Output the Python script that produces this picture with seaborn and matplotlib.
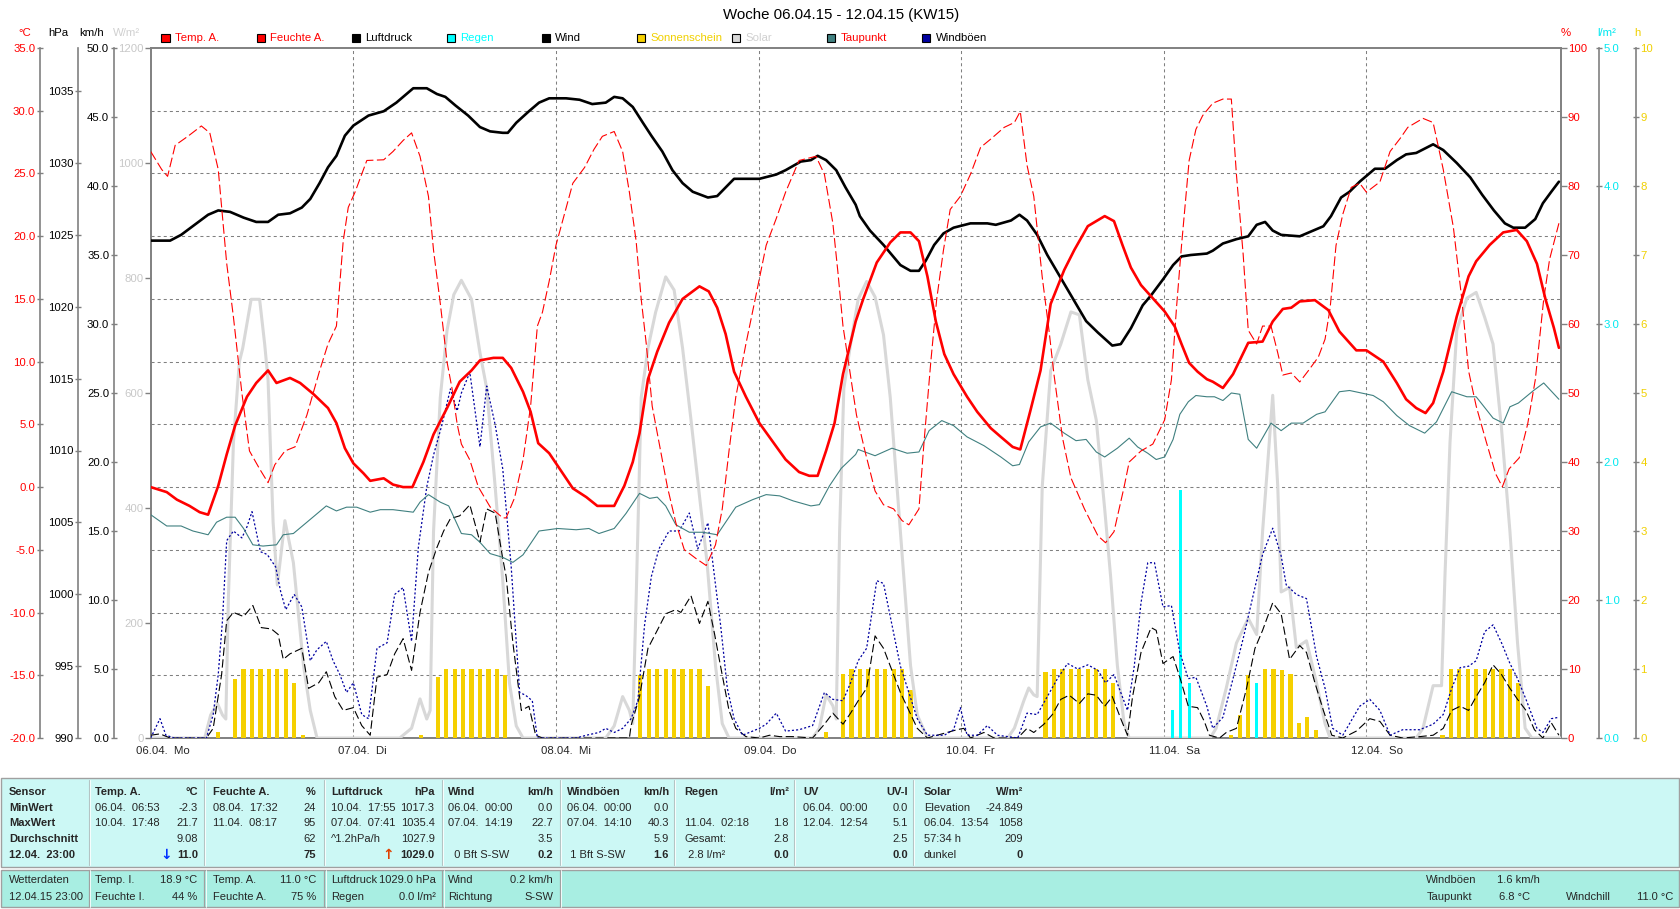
"""
Wochenübersicht Wetterstation KW15 (06.04.15 - 12.04.15)
Rebuild of the station chart with seaborn / matplotlib
"""

import matplotlib
matplotlib.use("Agg")
import matplotlib.pyplot as plt
import matplotlib.transforms as mtransforms
from matplotlib.patches import Rectangle
import seaborn as sns

# ---------------------------------------------------------------------------
# Data: (hours since 06.04. 00:00, value)
# ---------------------------------------------------------------------------
TEMP = [(0, 0.0), (1.9, -0.4), (3.1, -1.0), (4.6, -1.5), (5.8, -2.0), (6.8, -2.2), (8.0, 0.1), (9.0, 2.6),
        (10.0, 4.9), (11.4, 7.2), (12.5, 8.3), (13.9, 9.3), (14.9, 8.3), (16.5, 8.7), (17.7, 8.3), (19.3, 7.4),
        (21.0, 6.3), (22.0, 5.1), (23.0, 3.1), (24.0, 1.9), (25.2, 1.1), (26.0, 0.5), (27.6, 0.7), (28.7, 0.2),
        (29.9, 0.0), (31.0, 0.0), (32.3, 2.0), (33.5, 4.2), (35.1, 6.3), (36.6, 8.4), (38.0, 9.3), (39.0, 10.1),
        (40.6, 10.3), (41.7, 10.3), (42.7, 9.5), (44.1, 7.6), (45.0, 6.0), (45.9, 3.5), (47.2, 2.7), (48.4, 1.5),
        (50.0, -0.1), (51.6, -0.8), (52.9, -1.5), (54.9, -1.5), (56.1, 0.1), (57.1, 2.0), (57.9, 4.3), (58.9, 8.6),
        (60.0, 10.8), (61.4, 13.1), (63.0, 15.0), (65.0, 16.0), (66.1, 15.6), (67.1, 14.3), (68.1, 12.2),
        (69.1, 9.2), (70.5, 7.2), (72.1, 5.1), (73.7, 3.6), (75.2, 2.2), (76.8, 1.2), (78.0, 0.9), (79.0, 0.9),
        (80.0, 2.9), (81.0, 5.1), (82.0, 9.0), (83.5, 13.2), (84.4, 15.0), (86.0, 17.9), (87.6, 19.5),
        (88.8, 20.3), (90.0, 20.3), (91.0, 19.6), (92.0, 16.8), (93.0, 13.2), (94.0, 10.6), (95.1, 9.0),
        (96.7, 7.2), (97.9, 6.0), (99.5, 4.7), (100.7, 4.0), (102.1, 3.2), (103.0, 3.0), (104.2, 6.1),
        (105.4, 9.3), (106.6, 14.6), (108.2, 17.3), (109.4, 18.9), (111.0, 20.8), (113.0, 21.6), (114.1, 21.2),
        (115.1, 19.3), (116.1, 17.5), (117.3, 16.1), (118.5, 15.2), (120.1, 14.0), (121.3, 12.8), (122.1, 11.4),
        (123.0, 9.9), (124.0, 9.2), (125.1, 8.6), (125.8, 8.4), (127.0, 7.9), (128.2, 9.0), (130.0, 11.5),
        (131.7, 11.6), (132.9, 13.2), (134.1, 14.2), (135.1, 14.3), (136.1, 14.8), (137.9, 14.9), (139.5, 14.1),
        (140.8, 12.4), (142.8, 10.9), (144.0, 10.9), (146.0, 10.0), (147.6, 8.3), (148.7, 7.0), (149.9, 6.3),
        (151.0, 5.9), (151.9, 6.7), (153.1, 9.2), (154.7, 13.6), (156.1, 16.8), (157.0, 18.0), (158.6, 19.3),
        (160.2, 20.3), (161.8, 20.5), (163.0, 19.6), (164.2, 17.8), (165.2, 15.0), (166.2, 12.7), (166.8, 11.1)]

HUMIDITY = [(0, 85.0), (1.3, 82.4), (2.0, 81.4), (2.9, 85.9), (4.4, 87.2), (6.0, 88.7), (7.0, 87.7), (8.0, 82.4),
            (9.0, 68.8), (9.8, 61.0), (10.8, 50.0), (11.7, 41.6), (12.9, 39.0), (13.9, 37.0), (14.7, 39.6),
            (15.9, 41.6), (17.1, 42.2), (18.5, 46.8), (20.0, 53.2), (21.0, 57.1), (22.0, 59.7), (22.8, 72.0),
            (23.4, 76.9), (24.2, 79.1), (25.6, 83.7), (27.6, 83.8), (28.7, 85.0), (29.9, 86.6), (30.9, 87.7),
            (31.9, 84.3), (32.9, 78.5), (33.5, 70.7), (34.3, 63.0), (35.1, 54.5), (35.7, 50.6), (36.3, 45.5),
            (36.8, 42.6), (37.8, 40.3), (38.8, 36.4), (40.2, 33.5), (41.7, 31.9), (42.1, 31.9), (43.1, 34.8),
            (44.1, 40.3), (45.0, 48.1), (45.8, 59.7), (46.4, 61.7), (47.2, 66.2), (48.0, 71.4), (49.0, 75.9),
            (50.0, 80.4), (51.4, 82.7), (52.5, 85.3), (53.5, 87.2), (54.9, 87.9), (55.9, 85.0), (56.7, 79.1),
            (57.5, 72.0), (58.1, 63.6), (58.7, 57.1), (59.4, 48.1), (60.4, 41.6), (61.2, 36.4), (62.2, 31.2),
            (63.2, 27.3), (64.6, 26.0), (65.8, 25.0), (66.9, 28.0), (67.7, 33.2), (68.5, 41.6), (69.3, 49.4),
            (70.5, 57.1), (71.7, 64.2), (72.9, 71.4), (74.1, 75.3), (75.2, 79.1), (76.8, 83.7), (78.8, 84.3),
            (79.8, 81.7), (80.8, 74.6), (81.4, 67.5), (82.0, 59.7), (82.8, 53.2), (83.6, 46.8), (84.6, 41.6),
            (85.8, 35.8), (86.8, 33.8), (88.0, 33.2), (89.0, 31.5), (89.8, 30.9), (91.0, 33.2), (91.6, 42.9),
            (92.4, 54.5), (93.1, 63.6), (93.9, 70.7), (94.7, 76.6), (95.9, 78.5), (97.1, 81.7), (98.3, 85.6),
            (99.5, 86.8), (101.1, 88.5), (102.3, 89.2), (103.0, 90.8), (103.8, 83.0), (104.6, 78.5),
            (105.6, 66.8), (106.4, 59.1), (107.0, 52.6), (108.0, 43.5), (109.0, 37.7), (110.6, 33.2),
            (112.2, 29.3), (113.1, 28.3), (114.1, 29.9), (115.3, 36.4), (115.9, 40.0), (117.3, 41.6),
            (118.7, 42.6), (120.1, 46.1), (120.9, 51.9), (121.5, 62.3), (122.1, 71.4), (123.0, 83.7),
            (123.8, 88.2), (124.6, 90.2), (125.8, 92.0), (127.0, 92.6), (128.0, 92.6), (128.6, 81.7),
            (129.4, 70.1), (130.0, 59.1), (131.0, 57.1), (131.7, 59.7), (132.7, 59.7), (133.5, 55.8),
            (134.1, 52.6), (135.1, 52.9), (136.1, 51.6), (137.1, 53.2), (138.3, 55.2), (139.1, 57.8),
            (139.7, 62.3), (140.4, 71.4), (141.2, 75.9), (142.2, 79.8), (143.2, 80.4), (144.0, 79.1),
            (145.6, 80.6), (146.8, 85.0), (148.0, 86.9), (148.9, 88.5), (150.7, 89.8), (151.9, 89.2),
            (153.1, 82.4), (154.3, 74.0), (155.3, 63.6), (156.1, 53.2), (157.0, 48.1), (158.2, 42.9),
            (159.3, 38.3), (160.1, 36.4), (160.9, 39.0), (162.1, 40.6), (163.1, 45.5), (164.0, 51.9),
            (165.0, 63.6), (165.7, 69.4), (166.8, 74.6)]

PRESSURE = [(0, 1024.6), (2.3, 1024.6), (3.6, 1025.0), (5.2, 1025.7), (6.8, 1026.4), (8.0, 1026.7),
            (9.4, 1026.6), (11.0, 1026.2), (12.5, 1025.9), (13.9, 1025.9), (15.1, 1026.4), (16.5, 1026.5),
            (17.9, 1026.9), (18.9, 1027.5), (20.0, 1028.6), (21.0, 1029.7), (22.0, 1030.5), (23.0, 1031.9),
            (24.0, 1032.6), (25.8, 1033.3), (27.6, 1033.6), (29.1, 1034.2), (30.1, 1034.7), (31.1, 1035.2),
            (32.7, 1035.2), (33.9, 1034.8), (34.9, 1034.6), (36.1, 1034.0), (37.6, 1033.3), (39.0, 1032.5),
            (40.2, 1032.2), (41.7, 1032.1), (42.3, 1032.1), (43.3, 1032.8), (44.8, 1033.6), (46.0, 1034.2),
            (47.2, 1034.5), (49.2, 1034.5), (50.8, 1034.4), (52.3, 1034.1), (53.9, 1034.2), (54.9, 1034.6),
            (55.9, 1034.5), (57.1, 1033.9), (58.3, 1032.8), (59.3, 1031.9), (60.6, 1030.8), (61.8, 1029.5),
            (63.0, 1028.6), (64.2, 1028.0), (66.0, 1027.6), (67.1, 1027.7), (68.1, 1028.3), (69.1, 1028.9),
            (70.5, 1028.9), (72.1, 1028.9), (74.1, 1029.2), (75.2, 1029.5), (77.0, 1030.1), (78.2, 1030.2),
            (79.0, 1030.5), (80.0, 1030.2), (81.2, 1029.5), (82.3, 1028.3), (83.5, 1027.1), (84.0, 1026.3),
            (85.2, 1025.3), (86.8, 1024.3), (87.8, 1023.6), (88.8, 1022.9), (90.0, 1022.5), (91.0, 1022.5),
            (91.8, 1023.2), (92.8, 1024.3), (93.9, 1025.1), (95.1, 1025.5), (97.1, 1025.8), (99.1, 1025.8),
            (100.1, 1025.7), (101.9, 1026.0), (102.9, 1026.4), (103.8, 1026.0), (105.0, 1025.0),
            (106.2, 1023.6), (107.6, 1022.2), (109.0, 1020.8), (110.8, 1019.0), (112.2, 1018.2),
            (113.9, 1017.3), (114.9, 1017.4), (116.1, 1018.5), (117.5, 1020.1), (118.5, 1020.8),
            (119.9, 1021.9), (121.1, 1022.9), (122.1, 1023.5), (123.2, 1023.6), (125.1, 1023.7),
            (125.8, 1023.9), (127.0, 1024.4), (128.6, 1024.7), (130.0, 1024.9), (131.0, 1025.7),
            (132.0, 1025.9), (132.9, 1025.3), (133.9, 1025.0), (136.1, 1024.9), (137.3, 1025.2),
            (138.9, 1025.6), (139.8, 1026.3), (141.0, 1027.6), (142.0, 1028.0), (143.2, 1028.7),
            (144.0, 1029.1), (145.0, 1029.6), (146.2, 1029.6), (147.6, 1030.2), (148.7, 1030.6),
            (149.9, 1030.7), (150.9, 1031.0), (151.9, 1031.3), (153.1, 1030.9), (154.7, 1030.0),
            (156.3, 1029.0), (157.7, 1027.8), (159.1, 1026.7), (160.4, 1025.8), (161.4, 1025.5),
            (162.8, 1025.5), (164.0, 1026.1), (164.9, 1027.2), (165.9, 1028.0), (166.8, 1028.7)]

DEWPOINT = [(0, -2.2), (1.9, -3.1), (3.6, -3.1), (5.0, -3.5), (6.8, -3.8), (7.8, -2.8), (9.0, -2.4),
            (10.0, -2.4), (11.0, -3.3), (12.1, -4.6), (13.3, -4.7), (14.9, -4.6), (15.7, -3.8), (16.9, -3.7),
            (18.5, -2.8), (20.8, -1.5), (22.0, -1.9), (23.2, -1.6), (24.4, -1.6), (26.0, -2.0), (27.2, -1.8),
            (28.7, -1.8), (31.1, -2.0), (31.9, -1.2), (32.9, -0.6), (34.3, -1.2), (35.3, -1.5), (36.8, -3.7),
            (38.0, -3.8), (39.0, -4.4), (40.2, -5.3), (41.7, -5.6), (42.9, -6.0), (44.1, -5.4), (46.0, -3.5),
            (48.2, -3.3), (50.4, -3.4), (51.9, -3.3), (53.1, -3.7), (54.9, -3.3), (56.3, -2.1), (57.9, -0.5),
            (59.1, -0.9), (60.0, -0.8), (61.0, -1.5), (62.2, -3.0), (63.8, -3.6), (65.4, -3.6), (67.1, -3.8),
            (68.1, -2.8), (69.3, -1.6), (71.3, -1.0), (72.9, -0.6), (74.5, -0.7), (76.1, -1.1), (78.2, -1.5),
            (79.2, -1.4), (80.4, 0.1), (81.8, 1.5), (83.5, 2.6), (83.8, 3.0), (85.8, 2.5), (87.8, 3.1),
            (89.6, 2.7), (91.0, 2.8), (92.2, 4.5), (93.7, 5.3), (95.1, 4.9), (96.7, 4.0), (98.7, 3.3),
            (100.7, 2.4), (102.1, 1.7), (102.9, 1.8), (104.0, 3.6), (105.4, 4.8), (106.6, 5.1), (108.2, 4.3),
            (109.6, 3.7), (110.8, 3.8), (112.0, 2.8), (113.0, 2.4), (114.5, 3.1), (115.9, 3.9), (116.9, 3.2),
            (118.1, 2.7), (119.1, 2.2), (120.1, 2.4), (121.1, 3.8), (121.9, 5.8), (122.9, 6.8), (123.8, 7.3),
            (125.1, 7.2), (126.0, 7.2), (127.0, 6.9), (128.0, 7.5), (129.0, 7.4), (130.0, 3.8), (131.0, 3.1),
            (132.7, 5.1), (133.9, 4.5), (135.1, 5.1), (136.5, 5.1), (138.1, 5.8), (139.1, 6.0), (140.8, 7.6),
            (142.0, 7.7), (144.8, 7.3), (146.0, 6.8), (147.6, 5.7), (149.1, 4.9), (150.9, 4.3), (152.3, 5.2),
            (154.1, 7.6), (155.9, 7.2), (157.0, 7.2), (159.0, 5.5), (160.2, 5.1), (161.0, 6.4), (162.0, 6.7),
            (163.8, 7.7), (165.0, 8.3), (166.8, 7.0)]

SOLAR = [(0, 0), (6.4, 0), (7.1, 40), (7.9, 60), (8.5, 40), (8.9, 33), (9.2, 242), (9.8, 514), (10.5, 654),
         (10.9, 678), (11.9, 763), (12.9, 763), (13.5, 685), (13.9, 623), (14.5, 375), (15.0, 266), (15.9, 378),
         (16.9, 305), (18.1, 126), (18.9, 48), (19.7, 0),
         (29.5, 0), (30.9, 17), (31.9, 68), (32.7, 33), (33.1, 48), (33.5, 359), (34.3, 592), (35.1, 709),
         (35.9, 771), (36.8, 796), (38.0, 763), (39.0, 670), (39.8, 608), (40.8, 437), (41.7, 274), (42.5, 95),
         (43.3, 21), (44.1, 0),
         (53.9, 0), (54.9, 21), (55.9, 72), (56.7, 48), (57.1, 25), (57.5, 242), (58.1, 592), (58.9, 678),
         (59.8, 740), (61.0, 802), (62.0, 779), (63.0, 678), (64.0, 553), (65.0, 421), (65.9, 305), (66.9, 126),
         (67.7, 25), (68.5, 0),
         (78.4, 0), (79.2, 17), (80.0, 75), (80.8, 56), (81.2, 33), (81.6, 359), (82.1, 608), (82.9, 685),
         (83.8, 763), (84.8, 794), (85.8, 767), (86.8, 701), (87.6, 592), (88.4, 437), (89.2, 281), (90.0, 126),
         (90.8, 40), (92.0, 0),
         (101.5, 0), (102.3, 17), (103.4, 64), (104.0, 87), (104.6, 75), (105.0, 72), (105.6, 437), (106.6, 639),
         (107.8, 685), (109.0, 741), (110.0, 736), (111.0, 623), (112.0, 553), (113.0, 398), (113.7, 281),
         (114.5, 126), (115.3, 25), (115.9, 0),
         (125.5, 0), (126.2, 17), (127.4, 87), (128.6, 165), (130.0, 208), (131.0, 180), (131.7, 359),
         (132.3, 476), (132.9, 596), (133.5, 437), (133.9, 254), (134.9, 262), (135.7, 157), (136.9, 169),
         (138.1, 95), (139.1, 25), (139.7, 0),
         (149.9, 0), (150.7, 17), (151.9, 91), (152.9, 91), (153.3, 281), (153.9, 514), (154.7, 709),
         (155.9, 765), (157.0, 775), (158.0, 732), (159.0, 685), (160.0, 538), (161.0, 359), (161.9, 165),
         (162.8, 17), (163.6, 0), (167.0, 0)]

WIND = [(0, 0.2), (1.1, 0.3), (2.3, 0), (6.6, 0), (7.4, 0.7), (8.4, 4.6), (9.0, 8.5), (9.8, 9.1), (11.0, 8.8),
        (12.1, 9.6), (13.1, 8.0), (14.3, 7.9), (15.1, 7.5), (15.7, 5.7), (16.5, 6.1), (17.9, 6.5), (18.7, 3.6),
        (19.9, 4.0), (20.8, 4.8), (21.8, 3.0), (22.8, 2.0), (24.0, 2.2), (25.0, 0.9), (26.0, 0.2), (26.8, 4.4),
        (28.0, 4.6), (28.9, 6.1), (29.9, 7.2), (30.9, 4.9), (31.9, 9.1), (32.9, 12.0), (33.9, 13.8),
        (34.7, 15.0), (35.5, 15.9), (36.6, 16.1), (37.8, 16.9), (39.0, 14.2), (39.8, 16.6), (40.8, 16.3),
        (41.7, 13.0), (42.1, 11.7), (42.9, 6.9), (43.9, 2.0), (44.8, 2.3), (45.6, 0.2), (46.4, 0), (56.7, 0),
        (56.9, 0.9), (57.9, 3.0), (58.9, 6.5), (60.0, 7.8), (61.0, 9.0), (62.2, 9.3), (62.8, 9.1), (64.0, 10.3),
        (65.0, 8.3), (66.0, 9.9), (66.8, 7.5), (67.5, 5.2), (68.5, 2.0), (69.3, 0.7), (70.5, 0.1), (72.1, 0),
        (73.3, 0.2), (74.5, 0.1), (76.0, 0.1), (78.4, 0), (79.8, 1.0), (80.8, 1.8), (82.0, 1.0), (82.9, 1.8),
        (83.8, 2.7), (84.8, 3.6), (85.8, 7.4), (86.8, 6.5), (87.8, 4.9), (88.8, 3.3), (89.8, 2.0), (90.8, 0.7),
        (92.0, 0), (95.5, 0.6), (96.3, 0.7), (97.1, 0), (98.7, 0.4), (99.9, 0), (102.7, 0), (103.8, 0.7),
        (104.6, 0.4), (105.8, 1.0), (106.8, 1.7), (107.8, 2.8), (108.8, 3.1), (110.0, 2.5), (111.0, 3.2),
        (112.0, 3.1), (113.0, 2.3), (113.9, 3.0), (114.9, 1.4), (115.7, 0.2), (116.3, 3.0), (117.3, 6.2),
        (118.5, 8.0), (119.1, 7.8), (119.9, 5.4), (121.1, 5.9), (121.9, 4.4), (122.9, 2.3), (124.0, 2.2),
        (124.8, 1.2), (125.4, 0.2), (126.6, 0), (127.4, 0.4), (128.6, 0.7), (129.8, 3.6), (130.8, 6.5),
        (131.7, 7.8), (132.9, 9.8), (133.9, 9.0), (134.9, 5.7), (136.1, 6.7), (136.9, 6.2), (137.9, 4.0),
        (138.9, 2.0), (139.9, 0.2), (141.2, 0), (142.8, 0.5), (144.4, 1.4), (145.6, 1.2), (146.8, 0.2),
        (148.3, 0), (150.3, 0.1), (151.9, 0.2), (153.1, 0.7), (154.1, 2.0), (155.1, 2.3), (156.1, 2.0),
        (157.0, 3.0), (158.0, 4.0), (159.0, 5.3), (160.0, 4.6), (161.0, 3.6), (161.9, 2.8), (162.9, 2.0),
        (163.9, 0.6), (164.9, 0), (165.9, 1.1), (166.8, 0.2)]

GUSTS = [(0, 0), (1.1, 1.4), (1.8, 0.2), (2.8, 0), (6.6, 0), (7.4, 1.7), (8.0, 4.6), (8.5, 8.5), (9.0, 14.3),
         (9.8, 15.0), (10.8, 14.5), (11.4, 15.3), (12.0, 16.4), (13.0, 13.5), (13.8, 13.3), (14.8, 12.4),
         (15.4, 10.6), (16.0, 9.3), (17.0, 10.4), (17.9, 9.5), (18.9, 5.6), (19.7, 6.4), (20.8, 7.0),
         (21.6, 5.6), (22.4, 4.6), (23.2, 3.3), (24.0, 4.0), (25.0, 1.7), (25.8, 1.4), (26.8, 6.5), (28.0, 6.9),
         (28.9, 10.4), (29.9, 10.9), (30.9, 7.0), (31.7, 13.8), (32.7, 18.2), (33.5, 20.5), (34.5, 22.7),
         (35.5, 25.3), (36.3, 23.7), (36.8, 25.0), (37.8, 26.5), (39.0, 21.1), (39.8, 25.5), (40.8, 22.7),
         (41.7, 19.5), (42.7, 12.4), (43.7, 3.3), (44.4, 3.1), (45.2, 2.7), (45.8, 0), (50.4, 0), (51.6, 0.2),
         (53.1, 0.4), (53.9, 0.7), (54.9, 0.4), (55.9, 0.7), (56.9, 1.4), (57.7, 2.7), (58.5, 8.2), (59.3, 11.7),
         (60.2, 13.7), (61.4, 15.0), (62.6, 15.0), (63.8, 16.3), (64.8, 13.7), (66.0, 15.6), (66.9, 11.1),
         (67.5, 8.2), (68.3, 3.6), (69.1, 1.4), (70.1, 0.2), (72.1, 0.7), (72.9, 1.0), (74.1, 1.8), (75.2, 0.5),
         (76.8, 0.6), (78.4, 0.9), (79.8, 3.3), (80.8, 2.8), (82.0, 2.7), (82.9, 4.0), (83.8, 5.6), (84.8, 6.5),
         (86.0, 11.4), (86.8, 11.2), (87.8, 8.2), (88.8, 5.2), (89.8, 3.3), (90.8, 1.4), (92.0, 0.2),
         (94.0, 0.2), (95.1, 0.6), (95.9, 2.2), (96.7, 0.2), (97.9, 0.2), (99.1, 0.9), (100.3, 0.2),
         (102.7, 0), (103.8, 1.8), (105.0, 1.7), (106.2, 3.0), (107.4, 4.3), (108.6, 5.4), (109.8, 5.0),
         (111.0, 5.3), (112.2, 4.9), (113.1, 4.0), (114.1, 4.6), (114.9, 3.3), (115.7, 2.0), (116.5, 5.2),
         (117.3, 9.8), (118.1, 12.7), (118.9, 12.7), (119.9, 9.5), (120.9, 9.6), (121.9, 6.2), (122.9, 4.3),
         (123.8, 4.4), (125.1, 2.3), (125.8, 0.7), (127.0, 1.5), (128.2, 4.3), (129.4, 7.2), (130.6, 10.4),
         (131.7, 13.3), (132.9, 15.2), (133.9, 13.2), (134.5, 11.1), (135.7, 10.4), (136.9, 10.1),
         (138.1, 5.9), (139.1, 3.6), (140.0, 0.7), (141.2, 0.2), (143.2, 2.3), (144.4, 2.8), (145.6, 2.0),
         (146.8, 0.2), (148.3, 0.6), (150.3, 0.6), (151.9, 1.0), (153.1, 1.7), (154.1, 3.6), (155.1, 5.1),
         (156.1, 5.2), (157.0, 5.6), (158.0, 7.7), (159.0, 8.2), (160.0, 6.9), (161.0, 5.4), (161.9, 4.3),
         (162.9, 2.8), (164.2, 0.7), (164.9, 0.4), (165.9, 1.4), (166.8, 1.5)]

# sunshine per hour (h) and rain per hour (l/m²)
SUN_HOURS = [8, 10, 11, 12, 13, 14, 15, 16, 17, 18,
             32, 34, 35, 36, 37, 38, 39, 40, 41, 42,
             58, 59, 60, 61, 62, 63, 64, 65, 66,
             80, 82, 83, 84, 85, 86, 87, 88, 89, 90,
             106, 107, 108, 109, 110, 111, 112, 113, 114,
             128, 129, 130, 132, 133, 134, 135, 136, 137, 138,
             153, 154, 155, 156, 157, 158, 159, 160, 161, 162]
SUN_VALUES = [0.09, 0.85, 1, 1, 1, 1, 1, 1, 0.79, 0.05,
              0.05, 0.89, 1, 1, 1, 1, 1, 1, 1, 0.92,
              0.92, 1, 1, 1, 1, 1, 1, 1, 0.76,
              0.09, 0.93, 1, 1, 1, 1, 1, 1, 1, 0.69,
              0.95, 1, 1, 1, 1, 1, 1, 1, 0.79,
              0.05, 0.34, 0.92, 1, 1, 0.98, 0.93, 0.22, 0.30, 0.11,
              0.05, 1, 1, 1, 1, 1, 1, 1, 1, 0.79]
RAIN_HOURS = [121, 122, 123, 131]
RAIN_VALUES = [0.2, 1.8, 0.4, 0.4]

DAY_LABELS = ["06.04.  Mo", "07.04.  Di", "08.04.  Mi", "09.04.  Do", "10.04.  Fr", "11.04.  Sa", "12.04.  So"]
TITLE = "Woche 06.04.15 - 12.04.15 (KW15)"

LEGEND = [("Temp. A.", "#FF0000", "#FF0000"), ("Feuchte A.", "#FF0000", "#FF0000"),
          ("Luftdruck", "#000000", "#000000"), ("Regen", "#00FFFF", "#00FFFF"),
          ("Wind", "#000000", "#000000"), ("Sonnenschein", "#F5D000", "#F0D000"),
          ("Solar", "#D8D8D8", "#D0D0D0"), ("Taupunkt", "#408080", "#FF0000"),
          ("Windböen", "#0000A0", "#000000")]

# statistics table: (left, right, header, unit, rows)
STAT_COLS = [
    (94.6, 198, "Temp. A.", "°C", [("06.04.  06:53", "-2.3"), ("10.04.  17:48", "21.7"), ("", "9.08"), ("", "11.0")]),
    (213, 316, "Feuchte A.", "%", [("08.04.  17:32", "24"), ("11.04.  08:17", "95"), ("", "62"), ("", "75")]),
    (331, 434.5, "Luftdruck", "hPa", [("10.04.  17:55", "1017.3"), ("07.04.  07:41", "1035.4"),
                                      ("^1.2hPa/h", "1027.9"), ("", "1029.0")]),
    (448, 553, "Wind", "km/h", [("06.04.  00:00", "0.0"), ("07.04.  14:19", "22.7"), ("", "3.5"),
                               ("  0 Bft S-SW", "0.2")]),
    (567, 669, "Windböen", "km/h", [("06.04.  00:00", "0.0"), ("07.04.  14:10", "40.3"), ("", "5.9"),
                                   (" 1 Bft S-SW", "1.6")]),
    (684.6, 789, "Regen", "l/m²", [("", ""), ("11.04.  02:18", "1.8"), ("Gesamt:", "2.8"), (" 2.8 l/m²", "0.0")]),
    (803, 908, "UV", "UV-I", [("06.04.  00:00", "0.0"), ("12.04.  12:54", "5.1"), ("", "2.5"), ("", "0.0")]),
    (924, 1023, "Solar", "W/m²", [("Elevation", "-24.849"), ("06.04.  13:54", "1058"), ("57:34 h", "209"),
                                  ("dunkel", "0")]),
]
ROW_NAMES = ["Sensor", "MinWert", "MaxWert", "Durchschnitt", "12.04.  23:00"]

CURRENT_COLS = [
    (9, None, "Wetterdaten", "12.04.15 23:00", "", ""),
    (94.6, 197.5, "Temp. I.", "Feuchte I.", "18.9 °C", "44 %"),
    (213, 316, "Temp. A.", "Feuchte A.", "11.0 °C", "75 %"),
    (331, 435.5, "Luftdruck", "Regen", "1029.0 hPa", "0.0 l/m²"),
    (448, 553, "Wind", "Richtung", "0.2 km/h", "S-SW"),
]

# ---------------------------------------------------------------------------
# Layout (pixel geometry of the 1680 x 909 picture)
# ---------------------------------------------------------------------------
W, H = 1680, 909
PL, PR, PT, PB = 150.7, 1560.6, 48.0, 738.0
HOURS = 167.0
GRID = "#808080"

sns.set_theme(style="white")
plt.rcParams["font.family"] = ["Liberation Sans", "DejaVu Sans"]
plt.rcParams["lines.scale_dashes"] = False


def frect(x0, x1, y0, y1):
    return [x0 / W, 1 - y1 / H, (x1 - x0) / W, (y1 - y0) / H]


fig = plt.figure(figsize=(W / 100, H / 100), dpi=100)
fig.patch.set_facecolor("white")

# overlay for pixel placed texts and the table
ov = fig.add_axes([0, 0, 1, 1])
ov.set_xlim(0, W)
ov.set_ylim(H, 0)
ov.axis("off")

plot_rect = frect(PL, PR, PT, PB)

# base axes: frame and grid
ax = fig.add_axes(plot_rect)
ax.set_xlim(0, HOURS)
ax.set_ylim(-20, 35)
ax.set_xticks([])
ax.set_yticks([])
ax.set_facecolor("white")
for s in ax.spines.values():
    s.set_color(GRID)
    s.set_linewidth(1.4)
for y in range(-15, 35, 5):
    ax.axhline(y, color=GRID, lw=0.75, ls=(0, (2.2, 2.2)), zorder=0)
for d in range(1, 7):
    ax.axvline(d * 24, color=GRID, lw=0.75, ls=(0, (2.2, 2.2)), zorder=0)

day_trans = mtransforms.offset_copy(
    mtransforms.blended_transform_factory(ax.transData, ax.transAxes), fig=fig, x=-15, y=0, units="dots")
for d, lab in enumerate(DAY_LABELS):
    ax.text(d * 24, -0.019, lab, transform=day_trans, ha="left", va="center", fontsize=8.2, clip_on=False)


def layer(lim):
    a = fig.add_axes(plot_rect)
    a.set_xlim(0, HOURS)
    a.set_ylim(*lim)
    a.patch.set_visible(False)
    a.axis("off")
    return a


def line(a, data, color, lw, dashes=None):
    hh, vv = zip(*data)
    sns.lineplot(x=list(hh), y=list(vv), ax=a, color=color, linewidth=lw,
                 estimator=None, sort=False, legend=False)
    ln = a.lines[-1]
    ln.set_solid_joinstyle("round")
    if dashes is not None:
        ln.set_linestyle((0, dashes))


ax_sun = layer((0, 10))
ax_sun.bar(SUN_HOURS, SUN_VALUES, width=0.5, color="#F5D000", linewidth=0)

ax_sol = layer((0, 1200))
line(ax_sol, SOLAR, "#D8D8D8", 2.2)

ax_rain = layer((0, 5))
ax_rain.bar(RAIN_HOURS, RAIN_VALUES, width=0.36, color="#00FFFF", linewidth=0)

ax_wind = layer((0, 50))
line(ax_wind, WIND, "#000000", 0.8, (6, 2.5))
line(ax_wind, GUSTS, "#0000A0", 0.9, (1.5, 1.5))

ax_dew = layer((-20, 35))
line(ax_dew, DEWPOINT, "#408080", 0.8)

ax_p = layer((990, 1038))
line(ax_p, PRESSURE, "#000000", 1.9)

ax_rh = layer((0, 100))
line(ax_rh, HUMIDITY, "#FF0000", 0.8, (7, 2.5))

ax_t = layer((-20, 35))
line(ax_t, TEMP, "#FF0000", 1.9)


# ---------------------------------------------------------------------------
# scale axes left and right of the plot
# ---------------------------------------------------------------------------
def scale_axis(xpix, lim, ticks, labels, color, side="left", spine=True, direction="inout", length=4.5):
    a = fig.add_axes(frect(xpix, xpix + 0.5, PT, PB))
    a.patch.set_visible(False)
    a.set_xticks([])
    a.set_ylim(*lim)
    a.set_yticks(ticks)
    a.set_yticklabels(labels)
    for s in a.spines.values():
        s.set_visible(False)
    left = side == "left"
    a.tick_params(axis="y", left=left, right=not left, labelleft=left, labelright=not left,
                  direction=direction, length=length, width=1, color=GRID, labelcolor=color,
                  labelsize=8.2, pad=1.2)
    if spine:
        a.spines[side].set_visible(True)
        a.spines[side].set_color(GRID)
        a.spines[side].set_linewidth(1.2)
    return a


scale_axis(40, (-20, 35), range(-20, 36, 5), [f"{v:.1f}" for v in range(-20, 36, 5)], "#FF0000")
scale_axis(78, (990, 1038), range(990, 1036, 5), [str(v) for v in range(990, 1036, 5)], "#000000")
scale_axis(114, (0, 50), range(0, 51, 5), [f"{v:.1f}" for v in range(0, 51, 5)], "#000000")
scale_axis(PL, (0, 1200), range(0, 1201, 200), [str(v) for v in range(0, 1201, 200)], "#C8C8C8",
           spine=False, direction="out", length=4)
scale_axis(PR - 0.5, (0, 100), range(0, 101, 10), [str(v) for v in range(0, 101, 10)], "#FF0000",
           side="right", spine=False, direction="out", length=4)
scale_axis(1598.5, (0, 5), range(0, 6), [f"{v:.1f}" for v in range(0, 6)], "#00E8F0", side="right")
scale_axis(1635, (0, 10), range(0, 11), [str(v) for v in range(0, 11)], "#F0D000", side="right")

# units above the scales
for x, s, c in [(25, "°C", "#FF0000"), (58, "hPa", "#000000"), (92, "km/h", "#000000"),
                (127, "W/m²", "#D0D0D0"), (1566, "%", "#FF0000"), (1607, "l/m²", "#00E8F0"),
                (1637, "h", "#F0D000")]:
    ov.text(x, 33, s, ha="center", va="center", color=c, fontsize=8.2)

# title and legend row
ov.text(841, 15, TITLE, ha="center", va="center", fontsize=10.8, color="#000000")
for i, (name, box, tcol) in enumerate(LEGEND):
    x0 = 161.4 + i * 95.1
    ov.add_patch(Rectangle((x0, 33.5), 8.2, 8.6, facecolor=box, edgecolor="#000000", lw=0.8))
    ov.text(x0 + 13.5, 38, name, ha="left", va="center", color=tcol, fontsize=8.2)

# ---------------------------------------------------------------------------
# statistics table below the chart
# ---------------------------------------------------------------------------
P1_TOP, P1_BOT, P2_TOP, P2_BOT = 777.5, 866.5, 869.5, 907.0
ov.add_patch(Rectangle((0.5, P1_TOP), W - 1.5, P1_BOT - P1_TOP, facecolor="#CCF8F5",
                       edgecolor="#A0A0A0", lw=1))
ov.add_patch(Rectangle((0.5, P2_TOP), W - 1.5, P2_BOT - P2_TOP, facecolor="#A8EEE2",
                       edgecolor="#A0A0A0", lw=1))
for x in [88.6, 204, 324, 442, 559.6, 674, 794, 913]:
    ov.plot([x, x], [P1_TOP + 2, P1_BOT - 2], color="#B4C4C4", lw=0.8)
    ov.plot([x + 1, x + 1], [P1_TOP + 2, P1_BOT - 2], color="#FFFFFF", lw=0.6)
for x in [88.6, 204, 324, 442, 559.6]:
    ov.plot([x, x], [P2_TOP, P2_BOT], color="#A0A0A0", lw=0.9)
    ov.plot([x + 1.5, x + 1.5], [P2_TOP, P2_BOT], color="#FFFFFF", lw=0.6)

ROW_Y = [792, 807.7, 823.3, 839.5, 855]
FS = 8.0
for y, name in zip(ROW_Y, ROW_NAMES):
    ov.text(9, y, name, ha="left", va="center", fontsize=FS, fontweight="bold")

for left, right, head, unit, rows in STAT_COLS:
    ov.text(left, ROW_Y[0], head, ha="left", va="center", fontsize=FS, fontweight="bold")
    ov.text(right, ROW_Y[0], unit, ha="right", va="center", fontsize=FS, fontweight="bold")
    for i, (ltxt, rtxt) in enumerate(rows):
        last = i == len(rows) - 1
        ov.text(left, ROW_Y[i + 1], ltxt, ha="left", va="center", fontsize=FS)
        ov.text(right, ROW_Y[i + 1], rtxt, ha="right", va="center", fontsize=FS,
                fontweight="bold" if last else "normal")

# trend arrows of the current values
ov.text(171.5, ROW_Y[4], "↓", ha="right", va="center", fontsize=10, fontweight="bold", color="#0030FF",
        family=["DejaVu Sans"])
ov.text(393.5, ROW_Y[4], "↑", ha="right", va="center", fontsize=10, fontweight="bold", color="#E04000",
        family=["DejaVu Sans"])

ROW2_Y = [880, 896.5]
for left, right, l1, l2, r1, r2 in CURRENT_COLS:
    ov.text(left, ROW2_Y[0], l1, ha="left", va="center", fontsize=FS)
    ov.text(left, ROW2_Y[1], l2, ha="left", va="center", fontsize=FS)
    if right is not None:
        ov.text(right, ROW2_Y[0], r1, ha="right", va="center", fontsize=FS)
        ov.text(right, ROW2_Y[1], r2, ha="right", va="center", fontsize=FS)

ov.text(1426, ROW2_Y[0], "Windböen", ha="left", va="center", fontsize=FS)
ov.text(1497, ROW2_Y[0], "1.6 km/h", ha="left", va="center", fontsize=FS)
ov.text(1427, ROW2_Y[1], "Taupunkt", ha="left", va="center", fontsize=FS)
ov.text(1499, ROW2_Y[1], "6.8 °C", ha="left", va="center", fontsize=FS)
ov.text(1566, ROW2_Y[1], "Windchill", ha="left", va="center", fontsize=FS)
ov.text(1673, ROW2_Y[1], "11.0 °C", ha="right", va="center", fontsize=FS)

fig.savefig("out.png", dpi=100, facecolor="white")
